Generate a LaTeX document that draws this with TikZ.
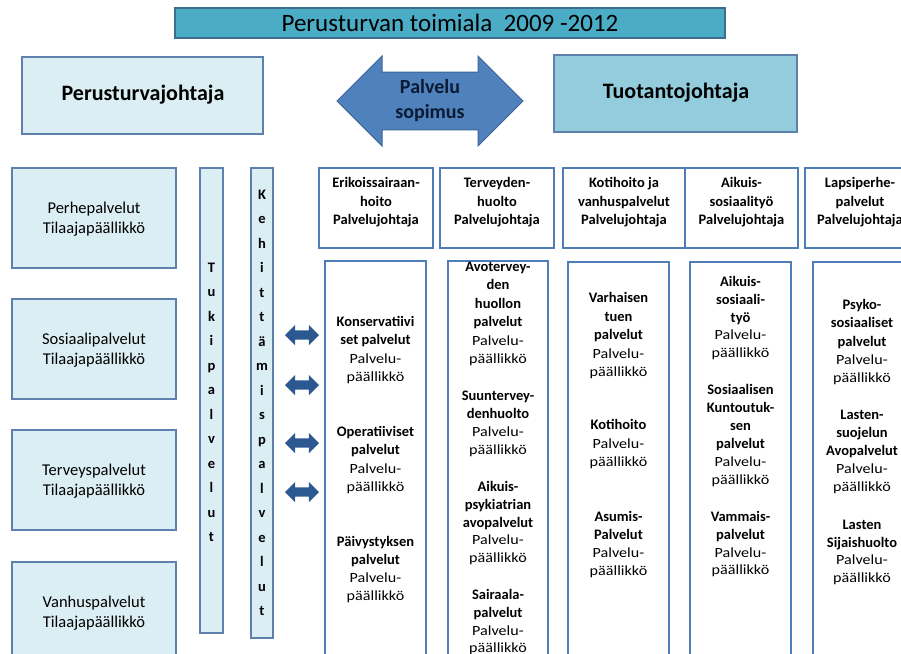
\documentclass[tikz,border=0pt]{standalone}
\usepackage{fontspec}
\setmainfont{Carlito}
\newfontfamily\regwide[FakeStretch=1.15]{Carlito}
\usetikzlibrary{shapes.arrows}

\definecolor{titlefill}{HTML}{4BACC6}
\definecolor{titleedge}{HTML}{3F6E8C}
\definecolor{palefill}{HTML}{DBEEF4}
\definecolor{midfill}{HTML}{93CDDD}
\definecolor{paleedge}{HTML}{5E80AC}
\definecolor{coledge}{HTML}{4F7DB8}
\definecolor{arrowfill}{HTML}{4F81BD}
\definecolor{arrowedge}{HTML}{3D6596}
\definecolor{linkfill}{HTML}{2B5891}
\definecolor{arrowtext}{HTML}{0B1A33}

% bold unit names inside the columns
\newcommand\bt[1]{{\rmfamily\bfseries\fontsize{14.5}{14.5}\selectfont #1}}
% a column of centred lines, one node per line
\newcommand\stack[5]{%
  \foreach \ln [count=\k] in {#5} {%
    \node[txt] (#1-\k) at (#2, {#3+#4*(\k-1)}) {\ln};}}

\tikzset{
  box/.style={draw, anchor=north west, inner sep=0pt, outer sep=0pt},
  palebox/.style={box, fill=palefill, draw=paleedge, line width=1.6pt},
  colbox/.style={box, fill=white, draw=coledge, line width=1.4pt},
  txt/.style={inner sep=0pt, text height=11pt, text depth=2pt,
    font=\regwide\fontsize{14}{14}\selectfont},
  vlet/.style={inner sep=0pt, text height=10pt, text depth=2pt,
    font=\fontsize{14.5}{14.5}\selectfont\bfseries},
  lefttxt/.style={inner sep=0pt, align=center,
    font=\fontsize{16.5}{20}\selectfont},
  bigtxt/.style={inner sep=0pt, font=\fontsize{22}{22}\selectfont\bfseries},
  link/.style={double arrow, fill=linkfill, draw=none, inner sep=0pt,
    text height=4.5pt, text depth=4.5pt,
    minimum height=34pt, minimum width=20pt,
    double arrow head extend=5.5pt, double arrow tip angle=90},
}

\begin{document}
\begin{tikzpicture}[x=1pt, y=-1pt]
\useasboundingbox (0,0) rectangle (901,653);

% --- top row ---
\node[box, fill=titlefill, draw=titleedge, line width=1.4pt,
      minimum width=550pt, minimum height=30pt] (title) at (175,8) {};
\node[inner sep=0pt, font=\fontsize{25}{25}\selectfont] (titletext)
      at (450,23) {Perusturvan toimiala\ \ 2009 -2012};

\node[palebox, line width=1.4pt, minimum width=241pt, minimum height=77pt]
      (ptj) at (22,57) {};
\node[bigtxt] (ptjtext) at (143,95) {Perusturvajohtaja};

\node[box, fill=midfill, draw=paleedge, line width=1.4pt,
      minimum width=243pt, minimum height=77pt] (tj) at (554,55) {};
\node[bigtxt] (tjtext) at (676,93) {Tuotantojohtaja};

\node[double arrow, fill=arrowfill, draw=arrowedge, line width=1pt,
      minimum height=186pt, minimum width=90pt,
      double arrow head extend=12pt, double arrow tip angle=90,
      inner sep=0pt, align=center, text=arrowtext,
      font=\fontsize{20}{25}\selectfont\bfseries] (pact) at (430,101)
      {Palvelu\\sopimus};

% --- ordering units on the left ---
\foreach \nm/\y/\a in {perhe/168/Perhepalvelut, sosiaali/299/Sosiaalipalvelut,
                       terveys/430/Terveyspalvelut, vanhus/562/Vanhuspalvelut}{
  \node[palebox, minimum width=164pt, minimum height=100pt] (\nm) at (12,\y) {};
  \node[lefttxt] (\nm-text) at (94,{\y+51}) {\a\\Tilaajapäällikkö};
}

% --- support bars ---
\node[palebox, minimum width=23pt, minimum height=465pt] (tuki) at (200,168) {};
\foreach \c [count=\k] in {T,u,k,i,p,a,l,v,e,l,u,t}
  \node[vlet] (tuki-\k) at (211.5,{268+24.5*(\k-1)}) {\c};

\node[palebox, minimum width=22pt, minimum height=470pt] (kehit) at (251,168) {};
\foreach \c [count=\k] in {K,e,h,i,t,t,ä,m,i,s,p,a,l,v,e,l,u,t}
  \node[vlet] (kehit-\k) at (262,{195+24.5*(\k-1)}) {\c};

\foreach \y [count=\k] in {335,385,443,492}
  \node[link] (link\k) at (302,\y) {};

% --- service director headers ---
\node[colbox, minimum width=114pt, minimum height=80pt] (h1) at (319,168) {};
\node[colbox, minimum width=114pt, minimum height=80pt] (h2) at (440,168) {};
\node[colbox, minimum width=122pt, minimum height=80pt] (h3) at (563,168) {};
\node[colbox, minimum width=113pt, minimum height=80pt] (h4) at (685,168) {};
\node[colbox, minimum width=110pt, minimum height=80pt] (h5) at (805,168) {};

\stack{h1t}{376}{183}{18.5}{\bt{Erikoissairaan-},\bt{hoito},\bt{Palvelujohtaja}}
\stack{h2t}{497}{183}{18.5}{\bt{Terveyden-},\bt{huolto},\bt{Palvelujohtaja}}
\stack{h3t}{624}{183}{18.5}{\bt{Kotihoito ja},\bt{vanhuspalvelut},\bt{Palvelujohtaja}}
\stack{h4t}{741.5}{183}{18.5}{\bt{Aikuis-},\bt{sosiaalityö},\bt{Palvelujohtaja}}
\stack{h5t}{860}{183}{18.5}{\bt{Lapsiperhe-},\bt{palvelut},\bt{Palvelujohtaja}}

% --- service manager columns ---
\node[colbox, minimum width=101pt, minimum height=420pt] (c1) at (325,261) {};
\node[colbox, minimum width=100pt, minimum height=420pt] (c2) at (448,261) {};
\node[colbox, minimum width=101pt, minimum height=420pt] (c3) at (568,262) {};
\node[colbox, minimum width=101pt, minimum height=420pt] (c4) at (690,262) {};
\node[colbox, minimum width=100pt, minimum height=420pt] (c5) at (813,262) {};

\stack{c1a}{375.5}{322}{18.4}{\bt{Konservatiivi},\bt{set palvelut},Palvelu-,päällikkö}
\stack{c1b}{375.5}{432}{18.4}{\bt{Operatiiviset},\bt{palvelut},Palvelu-,päällikkö}
\stack{c1c}{375.5}{542}{18.0}{\bt{Päivystyksen},\bt{palvelut},Palvelu-,päällikkö}

\stack{c2a}{498}{267}{18.4}{\bt{Avotervey-},\bt{den},\bt{huollon},\bt{palvelut},Palvelu-,päällikkö}
\stack{c2b}{498}{396}{18.0}{\bt{Suuntervey-},\bt{denhuolto},Palvelu-,päällikkö}
\stack{c2c}{498}{487}{17.8}{\bt{Aikuis-},\bt{psykiatrian},\bt{avopalvelut},Palvelu-,päällikkö}
\stack{c2d}{498}{595}{17.8}{\bt{Sairaala-},\bt{palvelut},Palvelu-,päällikkö}

\stack{c3a}{618.5}{298}{18.5}{\bt{Varhaisen},\bt{tuen},\bt{palvelut},Palvelu-,päällikkö}
\stack{c3b}{618.5}{425}{18.5}{\bt{Kotihoito},Palvelu-,päällikkö}
\stack{c3c}{618.5}{517}{18.0}{\bt{Asumis-},\bt{Palvelut},Palvelu-,päällikkö}

\stack{c4a}{740.5}{282}{17.8}{\bt{Aikuis-},\bt{sosiaali-},\bt{työ},Palvelu-,päällikkö}
\stack{c4b}{740.5}{390}{18.0}{\bt{Sosiaalisen},\bt{Kuntoutuk-},\bt{sen},\bt{palvelut},Palvelu-,päällikkö}
\stack{c4c}{740.5}{517}{17.8}{\bt{Vammais-},\bt{palvelut},Palvelu-,päällikkö}

\stack{c5a}{862}{305}{18.3}{\bt{Psyko-},\bt{sosiaaliset},\bt{palvelut},Palvelu-,päällikkö}
\stack{c5b}{862}{415}{18.0}{\bt{Lasten-},\bt{suojelun},\bt{Avopalvelut},Palvelu-,päällikkö}
\stack{c5c}{862}{525}{17.7}{\bt{Lasten},\bt{Sijaishuolto},Palvelu-,päällikkö}
\end{tikzpicture}
\end{document}
